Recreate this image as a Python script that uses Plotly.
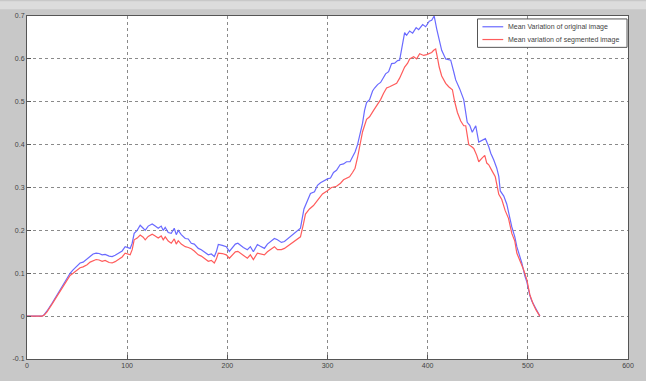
import plotly.graph_objects as go

# Mean variation of the original image (blue)
orig_x = [0, 5, 10, 15, 17, 20, 25, 30, 35, 40, 43, 46, 50, 53, 56, 60, 63, 66, 69, 72,
          75, 78, 82, 85, 88, 92, 95, 98, 100, 103, 105, 107, 110, 113, 116, 118, 121, 125,
          128, 131, 134, 136, 138, 141, 144, 147, 149, 151, 154, 158, 161, 164, 167, 171,
          174, 178, 181, 184, 187, 189, 191, 195, 199, 202, 205, 208, 210.5, 213, 216, 220,
          223, 226, 230, 233, 237, 240, 244, 247, 250, 254, 257, 260, 263, 266.5, 270, 273,
          276.5, 280, 283, 287, 290, 293, 296, 300, 303, 306, 309, 312.6, 316, 319, 322.5,
          325, 327.5, 330, 332.4, 335, 337, 339, 342, 345, 347, 350, 353, 355.5, 358, 361,
          364, 367, 370, 372, 374, 377, 379, 382, 385, 388.5, 391, 395, 398, 401.6, 404,
          406.5, 409, 411.5, 414, 418, 423, 426, 428, 432, 436, 439.5, 442, 444.5, 448, 451,
          454, 457.6, 461, 463, 466, 469, 471, 472.5, 476, 479, 484, 487, 489, 492, 494,
          497, 499, 502, 504, 507, 510, 512]
orig_y = [0, 0, 0, 0, 0.003, 0.012, 0.03, 0.05, 0.068, 0.088, 0.1, 0.108, 0.118, 0.124,
          0.126, 0.133, 0.14, 0.145, 0.147, 0.146, 0.143, 0.144, 0.14, 0.139, 0.142, 0.148,
          0.152, 0.162, 0.16, 0.158, 0.17, 0.193, 0.2, 0.212, 0.205, 0.2, 0.21, 0.215, 0.21,
          0.205, 0.21, 0.2, 0.207, 0.195, 0.193, 0.205, 0.19, 0.2, 0.19, 0.181, 0.18, 0.17,
          0.168, 0.158, 0.155, 0.148, 0.143, 0.145, 0.139, 0.15, 0.167, 0.165, 0.162, 0.151,
          0.16, 0.168, 0.17, 0.165, 0.16, 0.155, 0.162, 0.15, 0.167, 0.163, 0.158, 0.168,
          0.175, 0.181, 0.178, 0.172, 0.174, 0.18, 0.185, 0.193, 0.2, 0.205, 0.25, 0.27,
          0.286, 0.29, 0.305, 0.311, 0.315, 0.32, 0.322, 0.335, 0.34, 0.353, 0.355, 0.36,
          0.36, 0.37, 0.383, 0.4, 0.421, 0.45, 0.48, 0.498, 0.505, 0.525, 0.532, 0.54, 0.545,
          0.555, 0.565, 0.57, 0.589, 0.59, 0.596, 0.597, 0.62, 0.661, 0.655, 0.665, 0.66,
          0.673, 0.668, 0.68, 0.675, 0.688, 0.69, 0.70, 0.67, 0.642, 0.62, 0.6, 0.597, 0.57,
          0.551, 0.53, 0.505, 0.452, 0.445, 0.429, 0.444, 0.406, 0.41, 0.414, 0.395, 0.38,
          0.364, 0.345, 0.326, 0.292, 0.28, 0.261, 0.208, 0.185, 0.162, 0.14, 0.124, 0.094,
          0.08, 0.048, 0.035, 0.022, 0.01, 0.0]

# Mean variation of the segmented image (red)
seg_x = [0, 15, 17, 20, 25, 30, 35, 40, 43, 46, 50, 53, 56, 60, 63, 66, 69, 72, 75, 78,
         82, 85, 88, 92, 95, 98, 100, 103, 105, 107, 110, 113, 116, 118, 121, 125, 128, 131,
         134, 136, 138, 141, 144, 147, 149, 151, 154, 158, 161, 164, 167, 171, 174, 178, 181,
         184, 187, 189, 191, 195, 199, 202, 205, 208, 210.5, 213, 216, 220, 223, 226, 230,
         233, 237, 240, 244, 247, 250, 254, 257, 260, 263, 266.5, 270, 273, 276, 278, 282,
         286, 290, 295, 299.5, 304, 309, 313, 316, 319, 322, 325, 327.5, 330, 332.4, 335,
         339, 342, 346, 349, 353, 356, 359, 362, 366, 369, 372, 375, 377, 380, 382, 386,
         389, 392, 396, 399, 401.6, 404, 406, 408, 410, 411.5, 414, 418, 421, 424.7, 427,
         429.7, 433, 436, 438, 441, 444, 446, 449, 451, 454, 456, 457, 459, 461, 464, 467.5,
         471, 474, 477.4, 480.7, 484, 487, 489, 492, 495.5, 499, 502, 505, 508, 512]
seg_y = [0, 0, 0.002, 0.01, 0.028, 0.047, 0.065, 0.083, 0.095, 0.1, 0.107, 0.113, 0.115,
         0.12, 0.126, 0.13, 0.132, 0.131, 0.128, 0.13, 0.125, 0.124, 0.127, 0.133, 0.138,
         0.147, 0.145, 0.143, 0.155, 0.178, 0.182, 0.189, 0.184, 0.178, 0.186, 0.191, 0.187,
         0.182, 0.187, 0.178, 0.185, 0.175, 0.17, 0.18, 0.168, 0.176, 0.168, 0.162, 0.16,
         0.157, 0.152, 0.143, 0.14, 0.133, 0.128, 0.13, 0.124, 0.133, 0.147, 0.146, 0.143,
         0.135, 0.143, 0.15, 0.151, 0.147, 0.142, 0.135, 0.143, 0.132, 0.147, 0.145, 0.143,
         0.15, 0.156, 0.162, 0.155, 0.155, 0.158, 0.163, 0.168, 0.174, 0.18, 0.185, 0.215,
         0.238, 0.25, 0.258, 0.27, 0.285, 0.292, 0.3, 0.303, 0.31, 0.318, 0.322, 0.325,
         0.335, 0.345, 0.37, 0.398, 0.43, 0.459, 0.465, 0.48, 0.49, 0.505, 0.52, 0.532,
         0.535, 0.54, 0.543, 0.555, 0.57, 0.581, 0.59, 0.6, 0.605, 0.6, 0.612, 0.608, 0.61,
         0.612, 0.615, 0.62, 0.623, 0.6, 0.581, 0.56, 0.543, 0.535, 0.528, 0.5, 0.475, 0.455,
         0.444, 0.444, 0.4, 0.395, 0.391, 0.375, 0.36, 0.368, 0.372, 0.375, 0.357, 0.353,
         0.34, 0.325, 0.284, 0.272, 0.246, 0.228, 0.193, 0.175, 0.147, 0.13, 0.11, 0.085,
         0.05, 0.03, 0.015, 0]

series_names = ["Mean Variation of original image", "Mean variation of segmented image"]
series_colors = ["#6a6aff", "#ff5c5c"]

x_ticks = [0, 100, 200, 300, 400, 500, 600]
y_ticks = [-0.1, 0, 0.1, 0.2, 0.3, 0.4, 0.5, 0.6, 0.7]
y_tick_text = ["-0.1", "0", "0.1", "0.2", "0.3", "0.4", "0.5", "0.6", "0.7"]

fig = go.Figure()
for xs, ys, name, color in zip([orig_x, seg_x], [orig_y, seg_y], series_names, series_colors):
    fig.add_trace(go.Scatter(x=xs, y=ys, mode="lines", name=name,
                             line=dict(color=color, width=1.2)))

axis_common = dict(
    showline=True, linecolor="#555555", linewidth=1, mirror=True,
    showgrid=True, gridcolor="#8a8a8a", griddash="dot", gridwidth=1,
    ticks="inside", ticklen=4, tickcolor="#555555",
    tickfont=dict(family="Liberation Sans", size=7, color="#444444"),
    zeroline=False,
)

fig.update_xaxes(range=[0, 600], tickvals=x_ticks, **axis_common)
fig.update_yaxes(range=[-0.1, 0.7], tickvals=y_ticks, ticktext=y_tick_text, **axis_common)

# Compact boxed legend in the top-right corner (paper coordinates)
box_x0, box_x1, box_y0, box_y1 = 0.7496, 0.9984, 0.9086, 0.9914
entry_y = [0.9686, 0.9314]
shapes = [
    # light strip along the top of the figure
    dict(type="rect", xref="paper", yref="paper", x0=-0.05, x1=1.03,
         y0=1.0 + 7 / 350, y1=1.0 + 15 / 350, fillcolor="#dcdcdc", line_width=0,
         layer="below"),
    dict(type="rect", xref="paper", yref="paper", x0=box_x0, x1=box_x1,
         y0=box_y0, y1=box_y1, fillcolor="#ffffff",
         line=dict(color="#555555", width=1)),
]
annotations = []
for ey, name, color in zip(entry_y, series_names, series_colors):
    shapes.append(dict(type="line", xref="paper", yref="paper",
                       x0=0.7578, x1=0.7924, y0=ey, y1=ey,
                       line=dict(color=color, width=1.2)))
    annotations.append(dict(xref="paper", yref="paper", x=0.7965, y=ey,
                            xanchor="left", yanchor="middle", showarrow=False,
                            text=name,
                            font=dict(family="Liberation Sans", size=7, color="#444444")))

fig.update_layout(
    width=646, height=381,
    margin=dict(l=27, r=12, t=15, b=16),
    paper_bgcolor="#c8c8c8",
    plot_bgcolor="#ffffff",
    showlegend=False,
    shapes=shapes,
    annotations=annotations,
)

fig.write_html("out.html")
